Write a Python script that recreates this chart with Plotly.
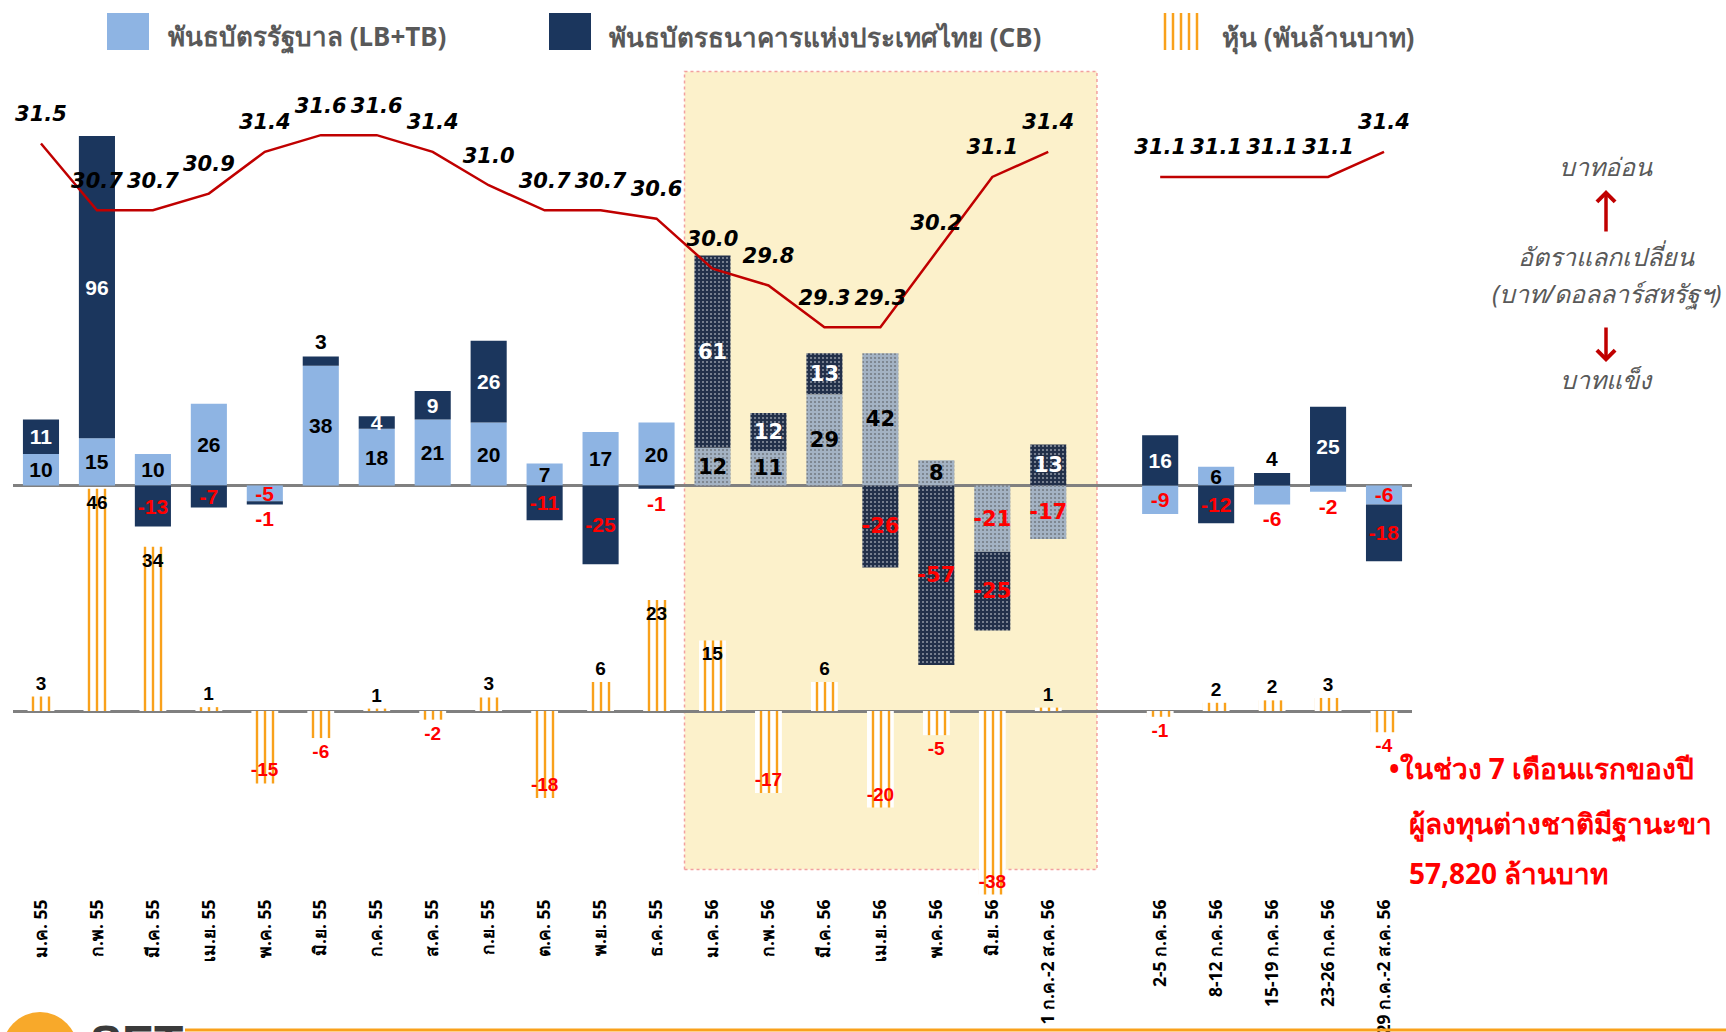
import math
import plotly.graph_objects as go

# ---------------- data ----------------
categories = ["ม.ค. 55", "ก.พ. 55", "มี.ค. 55", "เม.ย. 55", "พ.ค. 55", "มิ.ย. 55", "ก.ค. 55",
              "ส.ค. 55", "ก.ย. 55", "ต.ค. 55", "พ.ย. 55", "ธ.ค. 55", "ม.ค. 56", "ก.พ. 56",
              "มี.ค. 56", "เม.ย. 56", "พ.ค. 56", "มิ.ย. 56", "1 ก.ค.-2 ส.ค. 56", " ",
              "2-5 ก.ค. 56", "8-12 ก.ค. 56", "15-19 ก.ค. 56", "23-26 ก.ค. 56", "29 ก.ค.-2 ส.ค. 56"]

gov_bonds = [10, 15, 10, 26, -5, 38, 18, 21, 20, 7, 17, 20, 12, 11, 29, 42, 8, -21, -17, None,
             -9, 6, -6, -2, -6]
cb_bonds = [11, 96, -13, -7, -1, 3, 4, 9, 26, -11, -25, -1, 61, 12, 13, -26, -57, -25, 13, None,
            16, -12, 4, 25, -18]
stocks = [3, 46, 34, 0.8, -15, -5.6, 0.5, -1.8, 2.8, -18, 6, 23, 14.6, -17, 6, -20, -5, -38, 0.7, None,
          -1.2, 1.7, 2.2, 2.7, -4.4]
fx_rate = [31.5, 30.7, 30.7, 30.9, 31.4, 31.6, 31.6, 31.4, 31.0, 30.7, 30.7, 30.6, 30.0, 29.8, 29.3,
           29.3, 30.2, 31.1, 31.4, None, 31.1, 31.1, 31.1, 31.1, 31.4]

highlight_categories = categories[12:19]
cb_label_outside = ["พ.ค. 55", "มิ.ย. 55", "ธ.ค. 55", "15-19 ก.ค. 56"]
gov_label_outside = ["15-19 ก.ค. 56", "23-26 ก.ค. 56"]

name_gov = "พันธบัตรรัฐบาล (LB+TB)"
name_cb = "พันธบัตรธนาคารแห่งประเทศไทย (CB)"
name_stock = "หุ้น (พันล้านบาท)"

# ---------------- styles ----------------
W, H = 1726, 1032
ML, MR, MT, MB = 13, 314, 60, 137
PW, PH = W - ML - MR, H - MT - MB

def px(x):
    return (x - ML) / PW

def py(y):
    return (H - MB - y) / PH

LB_COL, CB_COL = "#8EB4E3", "#1B365D"
LB_HI, CB_HI = "#A3B2C3", "#22304A"
ORANGE = "#F9A11B"
RED_LINE = "#C00000"
GRAY_TXT = "#595959"
THAI = "Tahoma, 'Noto Sans', 'DejaVu Sans', sans-serif"


def fmt(v):
    if v is None:
        return ""
    return str(int(math.copysign(math.floor(abs(v) + 0.5), v)))


def is_hi(c):
    return c in highlight_categories


gov_colors = [LB_HI if is_hi(c) else LB_COL for c in categories]
cb_colors = [CB_HI if is_hi(c) else CB_COL for c in categories]
pat_shape = ["." if is_hi(c) else "" for c in categories]
lab_family = ["DejaVu Sans" if is_hi(c) else "Liberation Sans" for c in categories]

gov_pos = ["outside" if c in gov_label_outside else "inside" for c in categories]
cb_pos = ["outside" if c in cb_label_outside else "inside" for c in categories]
gov_tcol = ["red" if (v is not None and v < 0) else "black" for v in gov_bonds]
cb_tcol = []
for c, v in zip(categories, cb_bonds):
    if v is None or v >= 0:
        cb_tcol.append("black" if c in cb_label_outside else "white")
    else:
        cb_tcol.append("red")

st_pos = ["inside" if (v is not None and abs(v) >= 14.5) else "outside" for v in stocks]
st_tcol = ["red" if (v is not None and v < 0) else "black" for v in stocks]

fig = go.Figure()

fig.add_trace(go.Bar(
    x=categories, y=gov_bonds, name=name_gov, width=0.645,
    marker=dict(color=gov_colors, line=dict(width=0),
                pattern=dict(shape=pat_shape, fgcolor="#D9C884", size=4, solidity=0.22, fillmode="overlay")),
    text=[fmt(v) for v in gov_bonds], textposition=gov_pos, insidetextanchor="middle",
    textangle=0, constraintext="none", cliponaxis=False,
    textfont=dict(size=21, color=gov_tcol, family=lab_family, weight="bold"),
    showlegend=False, hoverinfo="skip"))

fig.add_trace(go.Bar(
    x=categories, y=cb_bonds, name=name_cb, width=0.645,
    marker=dict(color=cb_colors, line=dict(width=0),
                pattern=dict(shape=pat_shape, fgcolor="#8C7A3A", size=4, solidity=0.2, fillmode="overlay")),
    text=[fmt(v) for v in cb_bonds], textposition=cb_pos, insidetextanchor="middle",
    textangle=0, constraintext="none", cliponaxis=False,
    textfont=dict(size=21, color=cb_tcol, family=lab_family, weight="bold"),
    showlegend=False, hoverinfo="skip"))

fig.add_trace(go.Bar(
    x=categories, y=stocks, name=name_stock, width=0.48, yaxis="y2",
    marker=dict(color="white", line=dict(width=0),
                pattern=dict(shape="|", fgcolor=ORANGE, bgcolor="white", size=8, solidity=0.3,
                             fillmode="replace")),
    text=[fmt(v) for v in stocks], textposition=st_pos, insidetextanchor="end",
    textangle=0, constraintext="none", cliponaxis=False,
    textfont=dict(size=19, color=st_tcol, family="Liberation Sans", weight="bold"),
    showlegend=False, hoverinfo="skip"))

fig.add_trace(go.Scatter(
    x=categories, y=fx_rate, yaxis="y3", mode="lines+markers+text", connectgaps=False,
    line=dict(color=RED_LINE, width=2.5),
    marker=dict(size=26, color="rgba(0,0,0,0)"),
    text=[("" if v is None else f"{v:.1f}") for v in fx_rate], textposition="top center",
    textfont=dict(size=21, color="black", family="DejaVu Sans", weight="bold", style="italic"),
    cliponaxis=False, showlegend=False, hoverinfo="skip"))

shapes = [
    dict(type="rect", xref="x", yref="paper", x0=11.5, x1=18.87, y0=py(869.6), y1=py(71.5),
         fillcolor="#FCF1CB", line=dict(color="#F2A0A0", width=1.5, dash="dot"), layer="below"),
    dict(type="rect", xref="paper", yref="paper", x0=px(107), x1=px(149), y0=py(50), y1=py(13),
         fillcolor=LB_COL, line=dict(width=0)),
    dict(type="rect", xref="paper", yref="paper", x0=px(549), x1=px(591), y0=py(50), y1=py(13),
         fillcolor=CB_COL, line=dict(width=0)),
    dict(type="line", xref="paper", yref="paper", x0=px(185), x1=px(1726), y0=py(1030), y1=py(1030),
         line=dict(color=ORANGE, width=3)),
    dict(type="circle", xref="paper", yref="paper", x0=px(2), x1=px(78), y0=py(1090), y1=py(1012),
         fillcolor="#F8A92A", line=dict(width=0)),
]
for i in range(5):
    xx = 1165 + i * 8
    shapes.append(dict(type="line", xref="paper", yref="paper", x0=px(xx), x1=px(xx), y0=py(50), y1=py(13),
                       line=dict(color=ORANGE, width=2.5)))

ann = []
leg_font = dict(size=26, color=GRAY_TXT, family=THAI, weight="bold")
for x0, t in [(166, name_gov), (607, name_cb), (1220, name_stock)]:
    ann.append(dict(x=px(x0), y=py(37), xref="paper", yref="paper", text=t, showarrow=False,
                    xanchor="left", yanchor="middle", font=leg_font))

side_font = dict(size=25, color=GRAY_TXT, family=THAI, style="italic")
for yy, t in [(166, "บาทอ่อน"), (256, "อัตราแลกเปลี่ยน"), (293, "(บาท/ดอลลาร์สหรัฐฯ)"), (379, "บาทแข็ง")]:
    ann.append(dict(x=px(1606), y=py(yy), xref="paper", yref="paper", text=t, showarrow=False,
                    xanchor="center", yanchor="middle", font=side_font))
ann.append(dict(x=px(1606), y=py(190), xref="paper", yref="paper", text="", showarrow=True,
                ax=0, ay=43, arrowhead=4, arrowsize=1, arrowwidth=3.5, arrowcolor=RED_LINE))
ann.append(dict(x=px(1606), y=py(362), xref="paper", yref="paper", text="", showarrow=True,
                ax=0, ay=-36, arrowhead=4, arrowsize=1, arrowwidth=3.5, arrowcolor=RED_LINE))

red_font = dict(size=28, color="#FF0000", family=THAI, weight="bold")
ann.append(dict(x=px(1387), y=py(768), xref="paper", yref="paper", text="•ในช่วง 7 เดือนแรกของปี",
                showarrow=False, xanchor="left", yanchor="middle", font=red_font))
ann.append(dict(x=px(1407), y=py(823), xref="paper", yref="paper", text="ผู้ลงทุนต่างชาติมีฐานะขา",
                showarrow=False, xanchor="left", yanchor="middle", font=red_font))
ann.append(dict(x=px(1407), y=py(873), xref="paper", yref="paper", text="57,820 ล้านบาท",
                showarrow=False, xanchor="left", yanchor="middle", font=red_font))
ann.append(dict(x=px(88), y=py(1014), xref="paper", yref="paper", text="SET",
                showarrow=False, xanchor="left", yanchor="top",
                font=dict(size=48, color="#3A3A3A", family="Liberation Sans", weight="bold")))

fig.update_layout(
    width=W, height=H, margin=dict(l=ML, r=MR, t=MT, b=MB, pad=0, autoexpand=False),
    paper_bgcolor="white", plot_bgcolor="rgba(0,0,0,0)",
    barmode="relative", showlegend=False,
    xaxis=dict(type="category", categoryorder="array", categoryarray=categories,
               range=[-0.5, len(categories) - 0.5], showgrid=False, showline=False, zeroline=False,
               ticks="", tickangle=-90, automargin=False,
               tickfont=dict(size=17.5, color="black", family=THAI, weight="bold")),
    yaxis=dict(range=[-130, 135.1], showgrid=False, showticklabels=False, ticks="", automargin=False,
               zeroline=True, zerolinecolor="#808080", zerolinewidth=2.5, showline=False),
    yaxis2=dict(range=[-38.1, 134.8], overlaying="y", showgrid=False, showticklabels=False, ticks="",
                automargin=False,
                zeroline=True, zerolinecolor="#808080", zerolinewidth=2.5, showline=False),
    yaxis3=dict(range=[22.5, 32.5], overlaying="y", showgrid=False, showticklabels=False, ticks="",
                automargin=False, zeroline=False, showline=False),
    shapes=shapes, annotations=ann,
    font=dict(family=THAI),
)

fig.write_html("out.html", config={"displayModeBar": False},
               post_script="document.body.style.margin='0';document.body.style.overflow='hidden';")
